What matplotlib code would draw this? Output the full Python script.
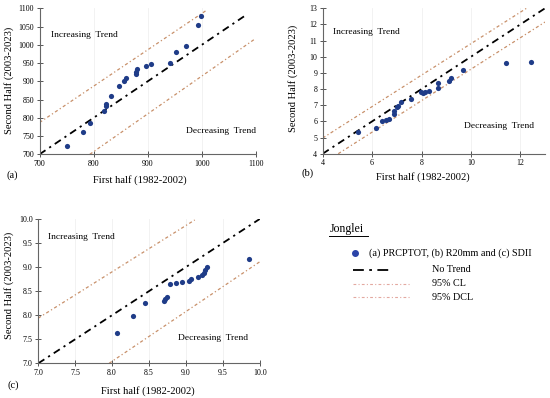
import matplotlib
matplotlib.use('Agg')
from matplotlib import pyplot as plt
from matplotlib.lines import Line2D

# panel (a) PRCPTOT
a_first = [751, 780, 794, 820, 822, 823, 833, 847, 857, 860, 879, 879, 880,
           897, 906, 942, 952, 970, 992, 998]
a_second = [723, 762, 786, 818, 831, 837, 860, 888, 902, 908, 919, 925, 934,
            943, 947, 951, 981, 997, 1054, 1080]
a_trend = [700, 1080]
a_cl_x, a_cl_y = [700, 1009], [787, 1095]
a_dcl_x, a_dcl_y = [793, 1099], [700, 1017]

# panel (b) R20mm
b_first = [5.41, 6.14, 6.40, 6.57, 6.69, 6.87, 6.89, 7.01, 7.03, 7.15, 7.59,
           7.97, 8.06, 8.13, 8.31, 8.67, 8.67, 9.11, 9.18, 9.69, 11.42, 12.43]
b_second = [5.32, 5.61, 6.00, 6.11, 6.17, 6.46, 6.62, 6.87, 6.95, 7.18, 7.39,
            7.84, 7.78, 7.80, 7.88, 8.09, 8.36, 8.48, 8.69, 9.21, 9.64, 9.70]
b_trend = [4, 13]
b_cl_x, b_cl_y = [4.0, 12.25], [4.97, 13.0]
b_dcl_x, b_dcl_y = [4.63, 13.0], [4.0, 12.15]

# panel (c) SDII
c_first = [8.07, 8.28, 8.45, 8.70, 8.72, 8.75, 8.79, 8.87, 8.95, 9.04, 9.07,
           9.17, 9.22, 9.24, 9.26, 9.29, 9.85]
c_second = [7.64, 7.99, 8.26, 8.30, 8.34, 8.38, 8.64, 8.66, 8.68, 8.71, 8.75,
            8.80, 8.83, 8.88, 8.94, 9.00, 9.17]
c_trend = [7, 10]
c_cl_x, c_cl_y = [7.0, 9.12], [7.94, 9.98]
c_dcl_x, c_dcl_y = [7.96, 10.0], [7.0, 9.11]

W, H = 550.0, 398.0
DOT = '#1F3C88'
CLC = '#C8906A'
TREND_LS = (0, (4, 2.5, 1.2, 2.5))
CL_LS = (0, (2.5, 2, 1, 2))

plt.rcParams['font.family'] = ['Liberation Serif', 'DejaVu Serif']

fig = plt.figure(figsize=(5.5, 3.98), dpi=100)


def px(x, y):
    return x / W, 1 - y / H


def rect(l, r, t, b):
    return [l / W, 1 - b / H, (r - l) / W, (b - t) / H]


def panel(r, first, second, trend, cl, dcl, xl, yl, xt, yt, inc, dec):
    ax = fig.add_axes(r)
    ax.plot(trend, trend, color='black', lw=1.3, ls=TREND_LS, zorder=2)
    ax.plot(cl[0], cl[1], color=CLC, lw=0.9, ls=CL_LS, zorder=1)
    ax.plot(dcl[0], dcl[1], color=CLC, lw=0.9, ls=CL_LS, zorder=1)
    ax.scatter(first, second, s=14, color=DOT, zorder=3, linewidths=0)
    ax.set_xlim(xl)
    ax.set_ylim(yl)
    ax.set_xticks(xt)
    ax.set_yticks(yt)
    ax.tick_params(direction='inout', length=4, width=0.7, labelsize=5.7,
                   color='#555555', pad=2)
    for s in ['top', 'right']:
        ax.spines[s].set_visible(False)
    for s in ['left', 'bottom']:
        ax.spines[s].set_color('#666666')
        ax.spines[s].set_linewidth(0.8)
    ax.grid(axis='x', color='#f0f0f0', lw=0.6)
    ax.set_axisbelow(True)
    ax.text(inc[0], inc[1], 'Increasing  Trend', transform=ax.transAxes,
            fontsize=6.8, ha='left', va='center')
    ax.text(dec[0], dec[1], 'Decreasing  Trend', transform=ax.transAxes,
            fontsize=6.8, ha='right', va='center')
    return ax


panel(rect(39.5, 256, 8.3, 154.3), a_first, a_second, a_trend,
      (a_cl_x, a_cl_y), (a_dcl_x, a_dcl_y), (700, 1100), (700, 1100),
      range(700, 1101, 100), range(700, 1101, 50),
      (0.052, 0.817), (1.0, 0.162))
panel(rect(322.7, 545, 8.3, 153.7), b_first, b_second, b_trend,
      (b_cl_x, b_cl_y), (b_dcl_x, b_dcl_y), (4, 13), (4, 13),
      range(4, 13, 2), range(4, 14, 1),
      (0.045, 0.835), (0.95, 0.19))
panel(rect(38.3, 259.7, 219, 363.3), c_first, c_second, c_trend,
      (c_cl_x, c_cl_y), (c_dcl_x, c_dcl_y), (7, 10), (7, 10),
      [7, 7.5, 8, 8.5, 9, 9.5, 10], [7, 7.5, 8, 8.5, 9, 9.5, 10],
      (0.045, 0.877), (0.949, 0.173))

xlab = 'First half (1982-2002)'
ylab = 'Second Half (2003-2023)'
fig.text(*px(139.5, 180), xlab, fontsize=7.6, ha='center', va='center')
fig.text(*px(423, 176.7), xlab, fontsize=7.6, ha='center', va='center')
fig.text(*px(147.7, 390.7), xlab, fontsize=7.6, ha='center', va='center')
fig.text(*px(9.3, 80), ylab, fontsize=7.6, ha='center', va='center',
         rotation=90)
fig.text(*px(293.3, 78), ylab, fontsize=7.6, ha='center', va='center',
         rotation=90)
fig.text(*px(9, 285), ylab, fontsize=7.6, ha='center', va='center',
         rotation=90)
fig.text(*px(6.5, 175), '(a)', fontsize=7.6, ha='left', va='center')
fig.text(*px(301.5, 173.3), '(b)', fontsize=7.6, ha='left', va='center')
fig.text(*px(7, 385), '(c)', fontsize=7.6, ha='left', va='center')

# legend block
fig.text(*px(329.3, 229.3), 'Jonglei', fontsize=8.6, ha='left',
         va='center')
fig.add_artist(Line2D([329.3 / W, 367.5 / W], [1 - 236 / H, 1 - 236 / H],
                      transform=fig.transFigure, color='black', lw=0.7))
fig.add_artist(Line2D([354.7 / W], [1 - 253.3 / H], transform=fig.transFigure,
                      marker='o', ms=4, color='#2B44A8', ls='none'))
fig.text(*px(369.3, 253.3), '(a) PRCPTOT, (b) R20mm and (c) SDII',
         fontsize=7.3, ha='left', va='center')
rows = [('No Trend', 270, 391.7, 'black', 1.3, (0, (6, 3, 1.5, 3))),
        ('95% CL', 284, 411, '#E3A8A0', 0.8, CL_LS),
        ('95% DCL', 297.3, 411, '#E3A8A0', 0.8, CL_LS)]
for lab, y, x1, col, lw, ls in rows:
    fig.add_artist(Line2D([352.7 / W, x1 / W], [1 - y / H, 1 - y / H],
                          transform=fig.transFigure, color=col, lw=lw, ls=ls))
    fig.text(*px(431.7, y), lab, fontsize=7.3, ha='left', va='center')

fig.savefig('out.png', dpi=100)
